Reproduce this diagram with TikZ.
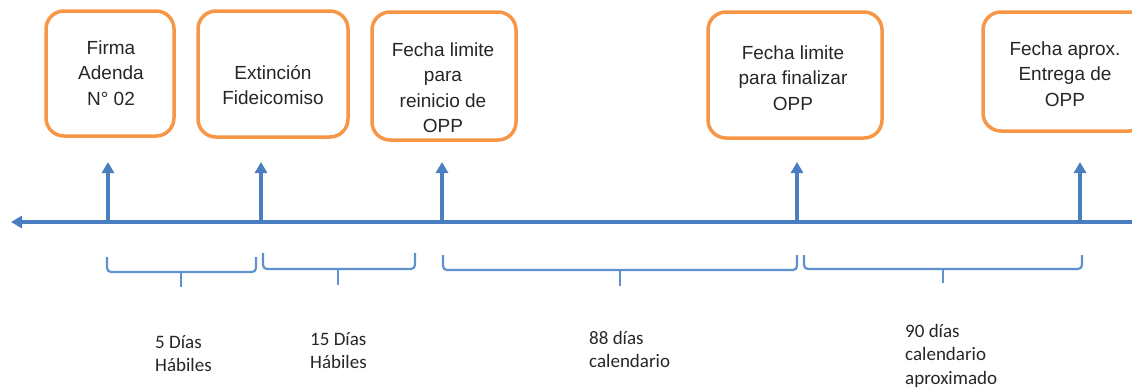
\documentclass[tikz,border=0pt]{standalone}
\usepackage{fontspec}
\setmainfont{Liberation Sans}
\newfontfamily\calibfont{Carlito}
\usetikzlibrary{arrows.meta}
\definecolor{boxorange}{RGB}{247,150,70}
\definecolor{lineblue}{RGB}{74,126,192}
\definecolor{bracketblue}{RGB}{95,145,208}
\begin{document}
\begin{tikzpicture}[x=1pt,y=-1pt,
  evbox/.style={draw=boxorange, line width=3.5pt, rounded corners=18pt, inner sep=0pt},
  boxtext/.style={anchor=north, align=center, inner sep=0pt, text=black!85,
    font=\fontsize{19}{25.5}\selectfont},
  spantext/.style={anchor=north west, align=left, inner sep=0pt, text=black!85,
    font=\calibfont\fontsize{19}{23.5}\selectfont},
  axisline/.style={draw=lineblue, line width=3.5pt, -{Triangle[length=11pt,width=12pt]}},
  evarrow/.style={draw=lineblue, line width=3.5pt, -{Triangle[length=11pt,width=12pt]}},
  brk/.style={draw=bracketblue, line width=2.2pt, rounded corners=4pt}]
\clip (0,0) rectangle (1132,389);
% event boxes
\node[evbox, minimum width=128pt, minimum height=125pt] (b1) at (110,73.5) {};
\node[evbox, minimum width=150pt, minimum height=126pt] (b2) at (273,74) {};
\node[evbox, minimum width=144pt, minimum height=128pt] (b3) at (444,76) {};
\node[evbox, minimum width=174pt, minimum height=126pt] (b4) at (795,75) {};
\node[evbox, minimum width=164pt, minimum height=119pt] (b5) at (1065,71.5) {};
% box texts
\node[boxtext] (t1) at (111,34) {\rule{0pt}{20pt}Firma\\Adenda\\N° 02};
\node[boxtext] (t2) at (273,59) {\rule{0pt}{20pt}Extinción\\Fideicomiso};
\node[boxtext] (t3) at (443,36) {\rule{0pt}{20pt}Fecha limite\\para\\reinicio de\\OPP};
\node[boxtext] (t4) at (793,39) {\rule{0pt}{20pt}Fecha limite\\para finalizar\\OPP};
\node[boxtext] (t5) at (1065,35) {\rule{0pt}{20pt}Fecha aprox.\\Entrega de\\OPP};
% axis
\coordinate (axR) at (1132,222);
\coordinate (axL) at (11,222);
\draw[axisline] (axR) -- (axL);
% event arrows
\foreach \i/\x in {1/108,2/261,3/442,4/797,5/1080}{
  \coordinate (a\i) at (\x,222);
  \coordinate (p\i) at (\x,162);
  \draw[evarrow] (a\i) -- (p\i);
}
% brackets
\draw[brk] (107,257) -- (107,272) -- (256,272) -- (256,257);
\draw[brk] (181,271) -- (181,287);
\draw[brk] (263,253) -- (263,269) -- (415,269) -- (415,253);
\draw[brk] (338,268) -- (338,285);
\draw[brk] (443,255) -- (443,270) -- (797,270) -- (797,255);
\draw[brk] (620,269) -- (620,286);
\draw[brk] (804,255) -- (804,269) -- (1082,269) -- (1082,255);
\draw[brk] (943,268) -- (943,283);
% span labels
\node[spantext] (s1) at (155,328) {\rule{0pt}{20pt}5 Días\\Hábiles};
\node[spantext] (s2) at (310,325) {\rule{0pt}{20pt}15 Días\\Hábiles};
\node[spantext] (s3) at (589,324) {\rule{0pt}{20pt}88 días\\calendario};
\node[spantext] (s4) at (905,317) {\rule{0pt}{20pt}90 días\\calendario\\aproximado};
\end{tikzpicture}
\end{document}
